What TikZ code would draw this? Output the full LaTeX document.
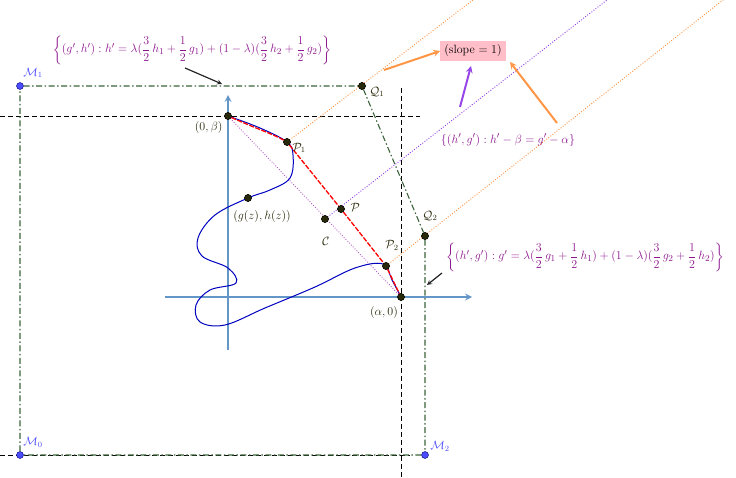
\documentclass[tikz,border=0pt]{standalone}
\usepackage{amsmath}
\begin{document}
\begin{tikzpicture}[x=1pt,y=-1pt]
\definecolor{tpur}{RGB}{140,20,140}
\definecolor{gdash}{RGB}{60,100,60}
\definecolor{ora}{RGB}{255,150,70}
\definecolor{vio}{RGB}{150,70,230}
\definecolor{dpur}{RGB}{185,100,200}
\definecolor{axb}{RGB}{100,150,200}
\definecolor{ptc}{RGB}{40,40,10}
\definecolor{pinkb}{RGB}{255,190,200}
\tikzset{pt/.style={circle,fill=ptc,draw=black,inner sep=0pt,minimum size=7pt},
 mpt/.style={circle,fill=blue!70,draw=blue!40!black,inner sep=0pt,minimum size=7pt},
 gd/.style={gdash,line width=1.1pt,dash pattern=on 6pt off 2.5pt on 1.5pt off 2.5pt},
 bd/.style={black,line width=0.9pt,dash pattern=on 5pt off 3pt},
 lbl/.style={text=ptc,font=\fontsize{12}{14}\selectfont},
 form/.style={text=tpur,font=\fontsize{12.5}{14}\selectfont},
 dotl/.style={line width=1.4pt,dash pattern=on 0.01pt off 2.6pt,line cap=round}}
\useasboundingbox (0,0) rectangle (736,478);
% dashed black
\draw[bd] (0,116) -- (420,116);
\draw[bd] (401,88) -- (401,478);
\draw[bd] (0,455) -- (410,455);
% axes
\draw[axb,line width=2pt,-stealth] (165,297) -- (472,297);
\draw[axb,line width=2pt,-stealth] (228,350) -- (228,95);
% points
\node[mpt] (M1) at (20,86) {};
\node[mpt] (M0) at (20,455) {};
\node[mpt] (M2) at (425,455) {};
\node[pt] (Q1) at (362,86) {};
\node[pt] (Q2) at (425,236) {};
\node[pt] (B) at (228,116) {};
\node[pt] (A) at (401,297) {};
\node[pt] (P1) at (287,142) {};
\node[pt] (P2) at (386,266) {};
\node[pt] (P) at (341,209) {};
\node[pt] (C) at (325,219) {};
\node[pt] (G) at (248,198) {};
\coordinate (oe1) at (473,0);
\coordinate (oe2) at (723,0);
\coordinate (ve) at (607,0);
% green frame
\draw[gd] (M1) -- (Q1) -- (Q2) -- (M2) -- (M0) -- (M1);
% dotted lines
\draw[ora,dotl] (P1) -- (oe1);
\draw[ora,dotl] (P2) -- (oe2);
\draw[vio,dotl] (C) -- (ve);
\draw[dpur,dotl] (B) -- (A);
% curve
\draw[blue!75!black,line width=1pt] plot[smooth,tension=0.6] coordinates {(228,116) (260,128) (287,142) (293,155) (290,178) (270,190) (248,198) (215,215) (198,238) (202,256) (228,268) (236,283) (210,290) (196,305) (200,322) (225,325) (265,308) (315,287) (355,268) (383,264) (392,280) (401,297)};
\draw[red,line width=1.3pt,dash pattern=on 5pt off 1.5pt] (B) .. controls (255,128) and (275,135) .. (P1) -- (P) -- (P2) -- (A);
% redraw points on top
\foreach \n in {B,A,P1,P2,P,C,G,Q1,Q2} \node[pt] at (\n) {};
% labels
\node[lbl,left] at (226,128) {$(0,\beta)$};
\node[lbl,below] at (384,303) {$(\alpha,0)$};
\node[lbl,right] at (289,148) {$\mathcal{P}_1$};
\node[lbl,above] at (392,254) {$\mathcal{P}_2$};
\node[lbl,right] at (347,207) {$\mathcal{P}$};
\node[lbl] at (326,241) {$\mathcal{C}$};
\node[lbl] at (262,217) {$(g(z),h(z))$};
\node[lbl,right] at (366,92) {$\mathcal{Q}_1$};
\node[lbl] at (430,216) {$\mathcal{Q}_2$};
\node[text=blue!70,font=\fontsize{12}{14}\selectfont] at (33,73) {$\mathcal{M}_1$};
\node[text=blue!70,font=\fontsize{12}{14}\selectfont] at (33,442) {$\mathcal{M}_0$};
\node[text=blue!70,font=\fontsize{12}{14}\selectfont] at (440,446) {$\mathcal{M}_2$};
% formulas
\node[form] (F1) at (192,50) {$\left\{(g',h'):h'=\lambda(\dfrac{3}{2}\,h_1+\dfrac{1}{2}\,g_1)+(1-\lambda)(\dfrac{3}{2}\,h_2+\dfrac{1}{2}\,g_2)\right\}$};
\node[form] (F2) at (508,140) {$\{(h',g'):h'-\beta=g'-\alpha\}$};
\node[form] (F3) at (585,257) {$\left\{(h',g'):g'=\lambda(\dfrac{3}{2}\,g_1+\dfrac{1}{2}\,h_1)+(1-\lambda)(\dfrac{3}{2}\,g_2+\dfrac{1}{2}\,h_2)\right\}$};
\node[fill=pinkb,font=\fontsize{12}{14}\selectfont,inner sep=4pt] (S) at (473,51) {(slope $=1$)};
\coordinate (a1) at (185,68); \coordinate (a1e) at (222,84);
\draw[gray!30!black,line width=1.2pt,-stealth] (a1) -- (a1e);
\coordinate (a3) at (442,273); \coordinate (a3e) at (427,285);
\draw[gray!30!black,line width=1.2pt,-stealth] (a3) -- (a3e);
\coordinate (o1) at (384,70); \coordinate (o2) at (557,123); \coordinate (v1) at (460,107);
\draw[ora,line width=2pt,-stealth] (o1) -- (S.west);
\draw[ora,line width=2pt,-stealth] (o2) -- (510,62);
\draw[vio,line width=2pt,-stealth] (v1) -- (471,66);
\end{tikzpicture}
\end{document}
